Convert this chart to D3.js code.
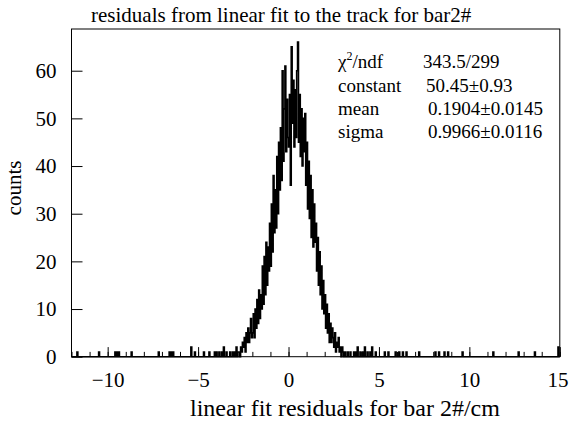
<!DOCTYPE html>
<html lang="en">
<head>
    <meta charset="UTF-8">
    <title>residuals from linear fit to the track for bar2#</title>
    <script src="https://d3js.org/d3.v7.min.js"></script>
    <style>
        body { margin: 0; background: #fff; }
        svg text { font-family: "Liberation Serif", "Times New Roman", serif; fill: #000; }
        .axis path, .axis line { stroke: #000; }
    </style>
</head>
<body>
<div id="chart"></div>
<script>
    // Histogram binning (bin width 0.05 over the full axis range)
    const xRange = [-12, 15];
    const binWidth = 0.05;

    // Core counts, bins from -3.5 to 3.5
    const coreStart = -3.5;
    const coreCounts = [
        0, 1, 0, 0, 0, 1, 0, 0, 1, 0,
        1, 0, 2, 0, 1, 1, 0, 2, 1, 3,
        2, 4, 1, 5, 3, 6, 3, 5, 8, 4,
        5, 9, 4, 10, 6, 12, 7, 14, 8, 13,
        10, 19, 11, 21, 13, 24, 15, 23, 18, 28,
        19, 32, 22, 38, 26, 35, 27, 42, 30, 45,
        35, 48, 37, 60, 41, 52, 61, 43, 54, 46,
        44, 55, 36, 65, 49, 58, 44, 56, 46, 60,
        66, 45, 55, 42, 52, 40, 50, 43, 51, 36,
        45, 31, 41, 29, 38, 25, 35, 23, 32, 24,
        28, 18, 25, 15, 22, 13, 19, 10, 16, 9,
        13, 6, 11, 5, 9, 3, 7, 3, 6, 4,
        2, 5, 1, 3, 2, 4, 1, 2, 0, 2,
        1, 0, 1, 0, 0, 1, 0, 0, 1, 0
    ];

    // Isolated entries in the tails: position and count
    const tailX = [-11.7, -10.5, -9.6, -9.5, -9.4, -8.7, -7.2, -6.6, -6.5, -6.4,
                   -5.4, -5.2, -4.7, -4.4, -4.1, -4.0, -3.85, -3.7, -3.6,
                   3.6, 3.7, 3.8, 3.95, 4.1, 4.2, 4.35, 4.5, 4.6, 4.8,
                   5.3, 5.5, 5.9, 6.1, 6.3, 6.5, 7.2, 8.1, 8.3, 8.6, 8.8,
                   9.6, 11.3, 12.7, 13.6, 14.9];
    const tailN = [1, 1, 1, 1, 1, 1, 1, 1, 1, 1,
                   2, 1, 1, 1, 1, 1, 1, 1, 2,
                   1, 1, 2, 1, 1, 2, 1, 1, 2, 1,
                   1, 1, 1, 1, 1, 1, 1, 1, 1, 1, 1,
                   1, 1, 1, 1, 2];

    const yTicks = [0, 10, 20, 30, 40, 50, 60];
    const xMajor = [-10, -5, 0, 5, 10, 15];
    const xMinor = d3.range(-12, 16, 1);

    const statNames = ["constant", "mean", "sigma"];
    const statValues = ["50.45\u00b10.93", "0.1904\u00b10.0145", "0.9966\u00b10.0116"];
    const chi2Text = "343.5/299";

    // Build the bin table from the arrays above
    const nBins = Math.round((xRange[1] - xRange[0]) / binWidth);
    const bins = d3.range(nBins).map(i => ({ lo: xRange[0] + i * binWidth, n: 0 }));
    const binIndex = v => Math.floor((v - xRange[0]) / binWidth + 1e-6);
    coreCounts.forEach((c, i) => { bins[binIndex(coreStart + i * binWidth)].n = c; });
    tailX.forEach((v, i) => { bins[binIndex(v)].n += tailN[i]; });

    const W = 569, H = 422;
    const frame = { left: 71.5, right: 559.8, top: 29, bottom: 356.7 };

    const svg = d3.select("#chart").append("svg")
        .attr("width", W)
        .attr("height", H);

    const x = d3.scaleLinear().domain(xRange).range([frame.left, frame.right]);
    const y = d3.scaleLinear().domain([0, 68.75]).range([frame.bottom, frame.top]);

    // Title
    svg.append("text")
        .attr("x", 91)
        .attr("y", 22)
        .attr("font-size", 21)
        .text("residuals from linear fit to the track for bar2#");

    // Frame
    svg.append("rect")
        .attr("x", frame.left)
        .attr("y", frame.top)
        .attr("width", frame.right - frame.left)
        .attr("height", frame.bottom - frame.top)
        .attr("fill", "none")
        .attr("stroke", "#000")
        .attr("stroke-width", 1);

    // Histogram outline
    const pts = bins.map(b => [b.lo, b.n]);
    pts.push([xRange[1], bins[bins.length - 1].n]);
    const line = d3.line()
        .x(d => x(d[0]))
        .y(d => y(d[1]))
        .curve(d3.curveStepAfter);

    svg.append("path")
        .datum(pts)
        .attr("fill", "none")
        .attr("stroke", "#000")
        .attr("stroke-width", 1.6)
        .attr("d", line);

    // Y axis, ticks pointing inward
    svg.append("g")
        .attr("class", "axis")
        .attr("transform", `translate(${frame.left},0)`)
        .call(d3.axisLeft(y).tickValues(yTicks).tickSize(-11).tickPadding(15))
        .call(g => g.select(".domain").remove())
        .call(g => g.selectAll("text").attr("font-size", 21).attr("font-family", "Liberation Serif"));

    // X axis: minor ticks then major ticks with labels
    svg.append("g")
        .attr("class", "axis")
        .attr("transform", `translate(0,${frame.bottom})`)
        .call(d3.axisBottom(x).tickValues(xMinor).tickSize(-4.8).tickFormat(""))
        .call(g => g.select(".domain").remove());

    svg.append("g")
        .attr("class", "axis")
        .attr("transform", `translate(0,${frame.bottom})`)
        .call(d3.axisBottom(x).tickValues(xMajor).tickSize(-9.6).tickPadding(15))
        .call(g => g.select(".domain").remove())
        .call(g => g.selectAll("text").attr("font-size", 21).attr("font-family", "Liberation Serif"))
        .call(g => g.selectAll(".tick text").filter(d => d === xRange[1])
            .attr("text-anchor", "end").attr("x", W - 1 - frame.right));

    // Axis titles
    svg.append("text")
        .attr("x", 190)
        .attr("y", 416)
        .attr("font-size", 24)
        .text("linear fit residuals for bar 2#/cm");

    svg.append("text")
        .attr("transform", "translate(21,188) rotate(-90)")
        .attr("text-anchor", "middle")
        .attr("font-size", 21)
        .text("counts");

    // Fit statistics
    const stats = svg.append("g").attr("font-size", 19);
    const chiRow = stats.append("text").attr("x", 338).attr("y", 68);
    chiRow.append("tspan").text("\u03c7");
    chiRow.append("tspan").attr("font-size", 12).attr("dy", -8).text("2");
    chiRow.append("tspan").attr("dy", 8).text("/ndf");
    stats.append("text").attr("x", 423).attr("y", 68).text(chi2Text);

    const valueX = [426, 428, 428];
    statNames.forEach((name, i) => {
        const yy = 92 + i * 23;
        stats.append("text").attr("x", 338).attr("y", yy).text(name);
        stats.append("text").attr("x", valueX[i]).attr("y", yy).text(statValues[i]);
    });
</script>
</body>
</html>
